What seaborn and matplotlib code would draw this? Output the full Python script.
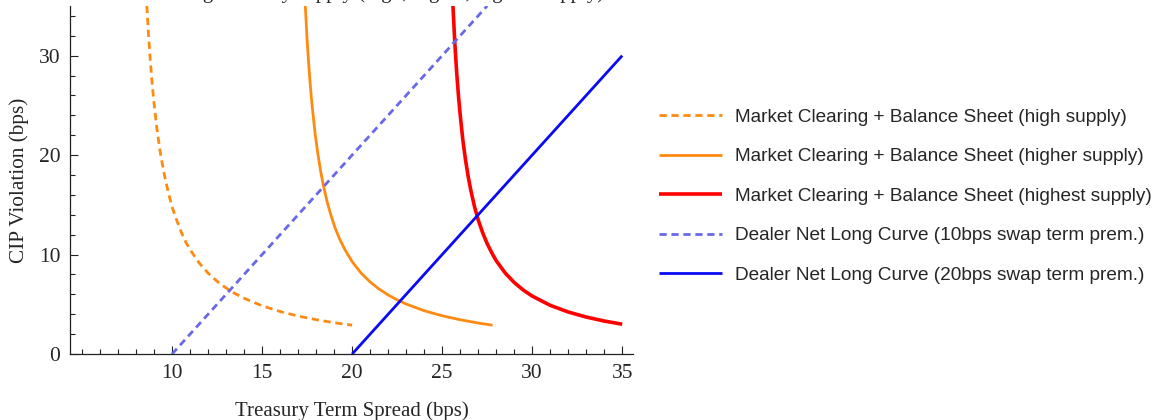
import matplotlib
matplotlib.use("Agg")
import matplotlib.pyplot as plt
from matplotlib.ticker import FixedLocator
import seaborn as sns
import pandas as pd

# Market clearing + balance sheet curves (Treasury term spread, CIP violation)
high_x = [8.6, 8.7, 8.8, 8.9, 9.0, 9.15, 9.3, 9.45, 9.6, 9.8, 10.0, 10.25,
          10.5, 10.75, 11.0, 11.5, 12.0, 12.5, 13.0, 13.5, 14.0, 15.0, 16.0,
          17.0, 18.0, 19.0, 20.0]
high_y = [35.0, 31.9, 29.3, 27.1, 25.2, 22.8, 20.8, 19.2, 17.8, 16.2, 14.8,
          13.5, 12.3, 11.3, 10.5, 9.17, 8.14, 7.31, 6.64, 6.08, 5.61, 4.85,
          4.28, 3.82, 3.46, 3.15, 2.9]

higher_x = [17.4, 17.5, 17.6, 17.7, 17.8, 17.95, 18.1, 18.25, 18.4, 18.6,
            18.8, 19.05, 19.3, 19.6, 20.0, 20.5, 21.0, 21.5, 22.0, 22.5,
            23.0, 24.0, 25.0, 26.0, 27.0, 27.8]
higher_y = [35.0, 31.6, 28.9, 26.5, 24.6, 22.1, 20.1, 18.4, 17.0, 15.4, 14.1,
            12.7, 11.6, 10.5, 9.29, 8.14, 7.25, 6.53, 5.94, 5.45, 5.03, 4.36,
            3.85, 3.45, 3.12, 2.9]

highest_x = [25.6, 25.7, 25.8, 25.9, 26.0, 26.15, 26.3, 26.45, 26.6, 26.8,
             27.0, 27.25, 27.5, 27.75, 28.0, 28.5, 29.0, 29.5, 30.0, 31.0,
             32.0, 33.0, 34.0, 35.0]
highest_y = [35.0, 31.4, 28.5, 26.1, 24.1, 21.5, 19.5, 17.8, 16.4, 14.8, 13.5,
             12.2, 11.1, 10.2, 9.39, 8.15, 7.20, 6.44, 5.83, 4.90, 4.23, 3.72,
             3.32, 3.0]

# Dealer net long curves
dealer10_x = [10.0, 27.5]
dealer10_y = [0.0, 35.0]
dealer20_x = [20.0, 35.0]
dealer20_y = [0.0, 30.0]

labels = [
    "Market Clearing + Balance Sheet (high supply)",
    "Market Clearing + Balance Sheet (higher supply)",
    "Market Clearing + Balance Sheet (highest supply)",
    "Dealer Net Long Curve (10bps swap term prem.)",
    "Dealer Net Long Curve (20bps swap term prem.)",
]
x_ticks = [10, 15, 20, 25, 30, 35]
x_minor = [v for v in range(5, 36) if v % 5 != 0 or v == 5]
y_ticks = [0, 10, 20, 30]
y_minor = [2, 4, 6, 8, 12, 14, 16, 18, 22, 24, 26, 28, 32, 34]

sns.set_style("ticks")
plt.rcParams["font.family"] = ["Liberation Serif", "DejaVu Serif"]

fig = plt.figure(figsize=(11.6, 4.2), dpi=100)
ax = fig.add_axes([0.0603, 0.157, 0.4854, 0.829])

series = [
    (high_x, high_y, "#FF8A12", "--", 2.0),
    (higher_x, higher_y, "#FF8A12", "-", 2.0),
    (highest_x, highest_y, "#FF0000", "-", 2.6),
    (dealer10_x, dealer10_y, "#6868E8", "--", 2.0),
    (dealer20_x, dealer20_y, "#0A0AF5", "-", 2.0),
]
handles = []
for (xs, ys, col, ls, lw), lab in zip(series, labels):
    df = pd.DataFrame({"x": xs, "y": ys})
    sns.lineplot(data=df, x="x", y="y", ax=ax, color=col, linewidth=lw,
                 sort=False, estimator=None, legend=False)
    line = ax.get_lines()[-1]
    line.set_linestyle(ls)
    line.set_solid_capstyle("butt")
    if ls == "--":
        line.set_dashes((2.6, 1.7))
    handles.append(line)

ax.set_xlim(4.33, 35.6)
ax.set_ylim(0, 35)
ax.xaxis.set_major_locator(FixedLocator(x_ticks))
ax.xaxis.set_minor_locator(FixedLocator(x_minor))
ax.yaxis.set_major_locator(FixedLocator(y_ticks))
ax.yaxis.set_minor_locator(FixedLocator(y_minor))
ax.tick_params(axis="both", which="major", direction="in", length=6,
               width=0.8, labelsize=15.5, pad=7, color="#222222")
ax.tick_params(axis="both", which="minor", direction="in", length=3.5,
               width=0.8, color="#222222")
ax.spines["top"].set_visible(False)
ax.spines["right"].set_visible(False)
for s in ("left", "bottom"):
    ax.spines[s].set_linewidth(0.9)
    ax.spines[s].set_color("#222222")

ax.set_xlabel("Treasury Term Spread (bps)", fontsize=15, labelpad=13)
ax.set_ylabel("CIP Violation (bps)", fontsize=15.3, labelpad=7)

fig.text(0.315, 1.004, "Increasing Treasury supply (high, higher, highest supply)",
         ha="center", va="baseline", fontsize=15)

leg = fig.legend(handles, labels, loc="upper left",
                 bbox_to_anchor=(0.5535, 0.783), frameon=False,
                 prop={"family": "Liberation Sans", "size": 13.7},
                 handlelength=3.3, handletextpad=0.7, labelspacing=1.17)

fig.savefig("out.png", dpi=100)
